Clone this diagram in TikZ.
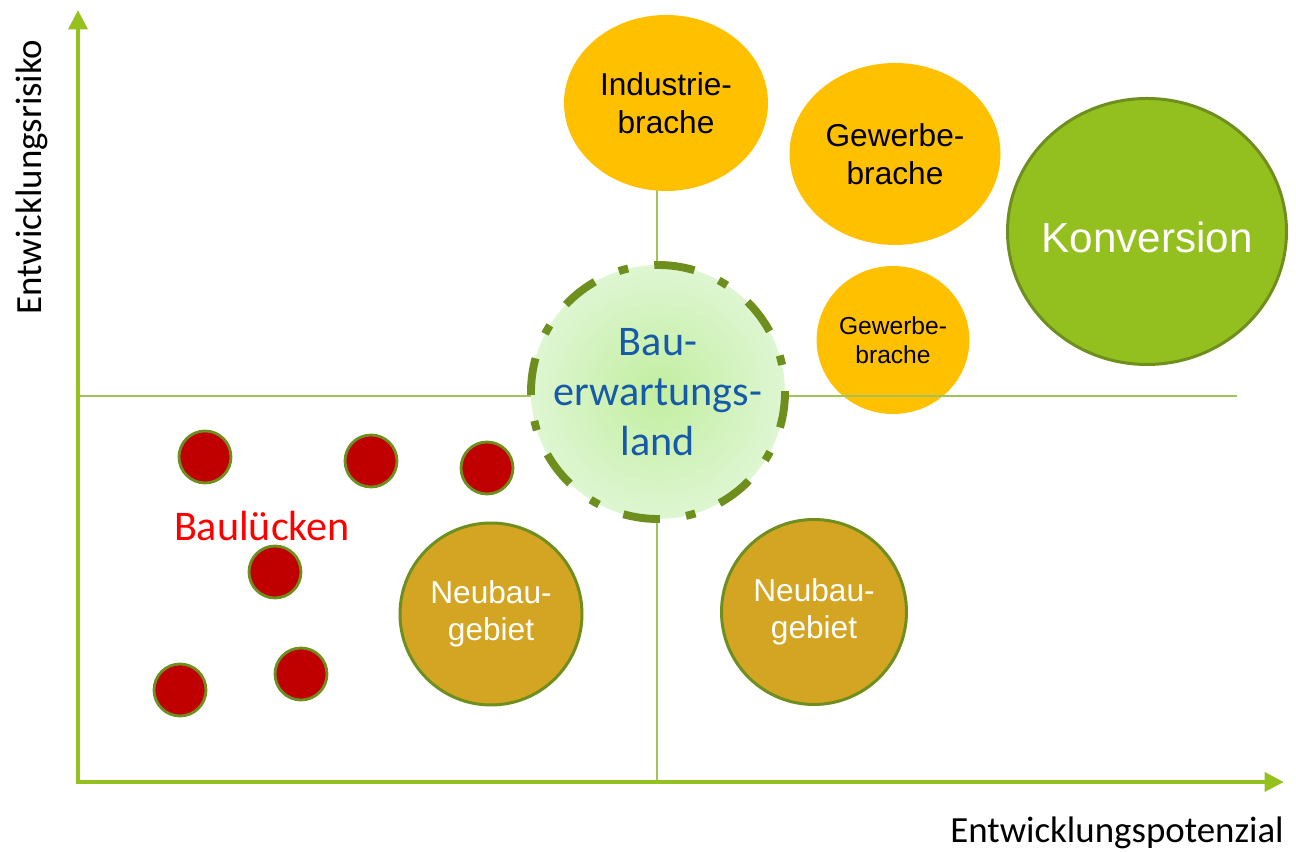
\documentclass[tikz,border=0pt]{standalone}
\usepackage{fontspec}
\setmainfont{Liberation Sans}
\newfontfamily\calibfont{Carlito}
\usepackage{xcolor}
\usetikzlibrary{arrows.meta,shapes.geometric}

\definecolor{achsgruen}{RGB}{149,193,31}
\definecolor{linie}{RGB}{160,196,90}
\definecolor{olivgruen}{RGB}{110,142,30}
\definecolor{brachegelb}{RGB}{255,192,0}
\definecolor{neubaugold}{RGB}{212,165,34}
\definecolor{lueckenrot}{RGB}{192,0,0}
\definecolor{konvgruen}{RGB}{147,192,31}
\definecolor{bwlinnen}{RGB}{194,238,160}
\definecolor{bwlaussen}{RGB}{222,246,210}
\definecolor{bwlblau}{RGB}{22,90,168}

\begin{document}
\begin{tikzpicture}[>={Triangle[length=11pt,width=10.5pt]},
  brache/.style={ellipse,fill=brachegelb,inner sep=0pt,align=center},
  baugebiet/.style={circle,fill=neubaugold,draw=olivgruen,line width=1.7pt,inner sep=0pt,
    align=center,text=white,font=\fontsize{18}{21}\selectfont},
  luecke/.style={circle,fill=lueckenrot,draw=olivgruen,line width=1.6pt,minimum size=1.04cm,inner sep=0pt}]
\useasboundingbox (0,0) rectangle (25.92,17.04);
\coordinate (O) at (1.56,1.40); \coordinate (M) at (13.14,9.12);
\coordinate (ytip) at (1.56,16.84); \coordinate (xtip) at (25.68,1.40);
\coordinate (hend) at (24.74,9.12); \coordinate (vend) at (13.14,13.3);

\node[brache,minimum width=3.02cm,minimum height=2.96cm,font=\fontsize{14}{16.5}\selectfont]
  (gew2) at (17.86,10.24) {Gewerbe-\\brache};
% quadrants
\draw[linie,line width=0.6pt] (O |- M) -- (hend);
\draw[linie,line width=0.6pt] (O -| M) -- (vend);
% axes
\draw[achsgruen,line width=2.8pt,<->] (ytip) -- (O) -- (xtip);
\node[font=\calibfont\fontsize{21}{25}\selectfont,anchor=base east] (potenzial) at (25.80,0.18) {Entwicklungspotenzial};
\node[font=\calibfont\fontsize{21}{25}\selectfont,rotate=90] (risiko) at (0.64,13.50) {Entwicklungsrisiko};

\node[brache,minimum width=4.08cm,minimum height=3.52cm,font=\fontsize{18}{21.5}\selectfont]
  (industrie) at (13.32,14.98) {Industrie-\\brache};
\node[brache,minimum width=4.22cm,minimum height=3.64cm,font=\fontsize{18}{21.5}\selectfont]
  (gew1) at (17.90,13.96) {Gewerbe-\\brache};
\node[ellipse,fill=konvgruen,draw=olivgruen,line width=1.7pt,minimum width=5.58cm,minimum height=5.32cm,
  inner sep=0pt] (konversion) at (22.94,12.41) {};
\node[text=white,font=\fontsize{24}{28}\selectfont] (konvtext) at ([yshift=-0.12cm]konversion.center) {Konversion};

\node[circle,minimum size=5.08cm,inner sep=0pt,inner color=bwlinnen,outer color=bwlaussen,
  align=center,text=bwlblau,font=\calibfont\fontsize{24}{28.5}\selectfont]
  (bwl) at (13.16,9.20) {Bau-\\erwartungs-\\land};
% dash-dot rim, clockwise from the top
\draw[olivgruen,line width=4.5pt,dash pattern=on 21pt off 15pt on 5.5pt off 15pt]
  ([yshift=2.54cm]bwl.center) arc[start angle=90,end angle=-270,radius=2.54cm];

\node[baugebiet,minimum size=3.64cm] (neubau1) at (9.82,4.76) {Neubau-\\gebiet};
\node[baugebiet,minimum size=3.70cm] (neubau2) at (16.28,4.80) {Neubau-\\gebiet};

\node[luecke] (l1) at (4.10,7.90) {};
\node[luecke] (l2) at (7.42,7.82) {};
\node[luecke] (l3) at (9.74,7.68) {};
\node[luecke] (l4) at (5.50,5.60) {};
\node[luecke] (l5) at (6.02,3.56) {};
\node[luecke] (l6) at (3.60,3.24) {};
\node[text=red,font=\calibfont\fontsize{24}{28}\selectfont] (baul) at (5.24,6.52) {Baulücken};
\end{tikzpicture}
\end{document}
